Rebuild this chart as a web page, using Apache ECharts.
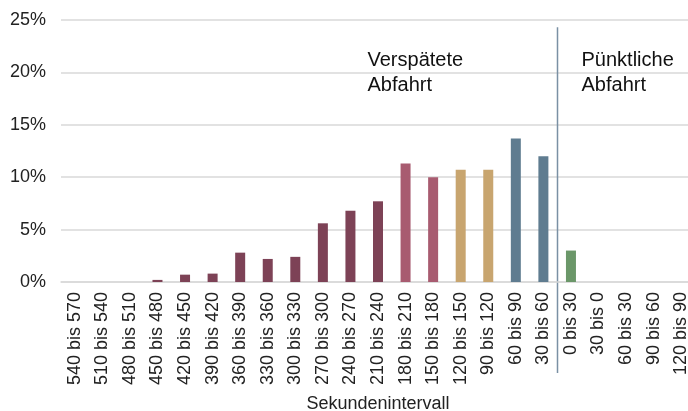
<!DOCTYPE html>
<html>

<head>
    <meta charset="utf-8">
    <title>Sekundenintervall</title>
    <style>
        html, body { margin: 0; padding: 0; background: #fff; }
        #chartBox { width: 688px; height: 411px; }
    </style>
</head>

<body>
    <div id="chartBox"></div>

    <script src="https://cdn.jsdelivr.net/npm/echarts@6/dist/echarts.min.js"></script>

    <script>
        // Kategorien (Sekundenintervall)
        var categories = ['540 bis 570', '510 bis 540', '480 bis 510', '450 bis 480', '420 bis 450',
            '390 bis 420', '360 bis 390', '330 bis 360', '300 bis 330', '270 bis 300', '240 bis 270',
            '210 bis 240', '180 bis 210', '150 bis 180', '120 bis 150', '90 bis 120', '60 bis 90',
            '30 bis 60', '0 bis 30', '30 bis 0', '60 bis 30', '90 bis 60', '120 bis 90'];

        // Anteile in Prozent
        var values = [0, 0, 0, 0.2, 0.7, 0.8, 2.8, 2.2, 2.4, 5.6, 6.8, 7.7, 11.3, 10.0, 10.7, 10.7,
            13.7, 12.0, 3.0, 0, 0, 0, 0];

        // Farbgruppe je Kategorie
        var groups = [0, 0, 0, 0, 0, 0, 0, 0, 0, 0, 0, 0, 1, 1, 2, 2, 3, 3, 4, 4, 4, 4, 4];

        var yTicks = [0, 5, 10, 15, 20, 25];

        var palette = ['#7d4256', '#a85b70', '#c8a56f', '#5f7c90', '#6b9769'];
        var fontFamily = '"Liberation Sans", Arial, sans-serif';

        var myChart = echarts.init(document.getElementById('chartBox'));

        var barData = values.map(function (v, i) {
            return { value: v, itemStyle: { color: palette[groups[i]] } };
        });

        var option = {
            animation: false,
            grid: { left: 61, right: -7, top: 20, bottom: 129, outerBoundsMode: 'none', containLabel: false },
            xAxis: {
                type: 'category',
                data: categories,
                name: 'Sekundenintervall',
                nameLocation: 'middle',
                nameGap: 113,
                nameTextStyle: { fontFamily: fontFamily, fontSize: 18, color: '#222' },
                axisLine: { lineStyle: { color: '#d9d9d9', width: 1.5 } },
                axisTick: { show: false },
                axisLabel: {
                    rotate: 90, interval: 0, margin: 10,
                    fontFamily: fontFamily, fontSize: 18, color: '#222'
                }
            },
            yAxis: {
                type: 'value',
                min: yTicks[0],
                max: yTicks[yTicks.length - 1],
                interval: 5,
                axisLine: { show: false },
                axisTick: { show: false },
                splitLine: { lineStyle: { color: '#d9d9d9', width: 1.5 } },
                axisLabel: {
                    margin: 15,
                    fontFamily: fontFamily, fontSize: 18, color: '#222',
                    formatter: '{value}%'
                }
            },
            series: [{
                type: 'bar',
                data: barData,
                barWidth: 10
            }]
        };

        myChart.setOption(option);

        // Trennlinie und Beschriftungen aus den Achsen berechnen
        var xLate = myChart.convertToPixel({ xAxisIndex: 0 }, 17);
        var xOnTime = myChart.convertToPixel({ xAxisIndex: 0 }, 18);
        var xSplit = Math.round((xLate + xOnTime) / 2) + 0.5;
        var yTop = myChart.convertToPixel({ yAxisIndex: 0 }, 24.3);
        var yText = myChart.convertToPixel({ yAxisIndex: 0 }, 22.3);

        myChart.setOption({
            graphic: [
                {
                    type: 'line',
                    shape: { x1: xSplit, y1: yTop, x2: xSplit, y2: 373 },
                    style: { stroke: '#7a90a4', lineWidth: 1.5 }
                },
                {
                    type: 'text',
                    left: xSplit - 190,
                    top: yText,
                    style: {
                        text: 'Verspätete\nAbfahrt', fill: '#111',
                        font: '20px ' + fontFamily, lineHeight: 25
                    }
                },
                {
                    type: 'text',
                    left: xSplit + 24,
                    top: yText,
                    style: {
                        text: 'Pünktliche\nAbfahrt', fill: '#111',
                        font: '20px ' + fontFamily, lineHeight: 25
                    }
                }
            ]
        });
    </script>

</body>

</html>
